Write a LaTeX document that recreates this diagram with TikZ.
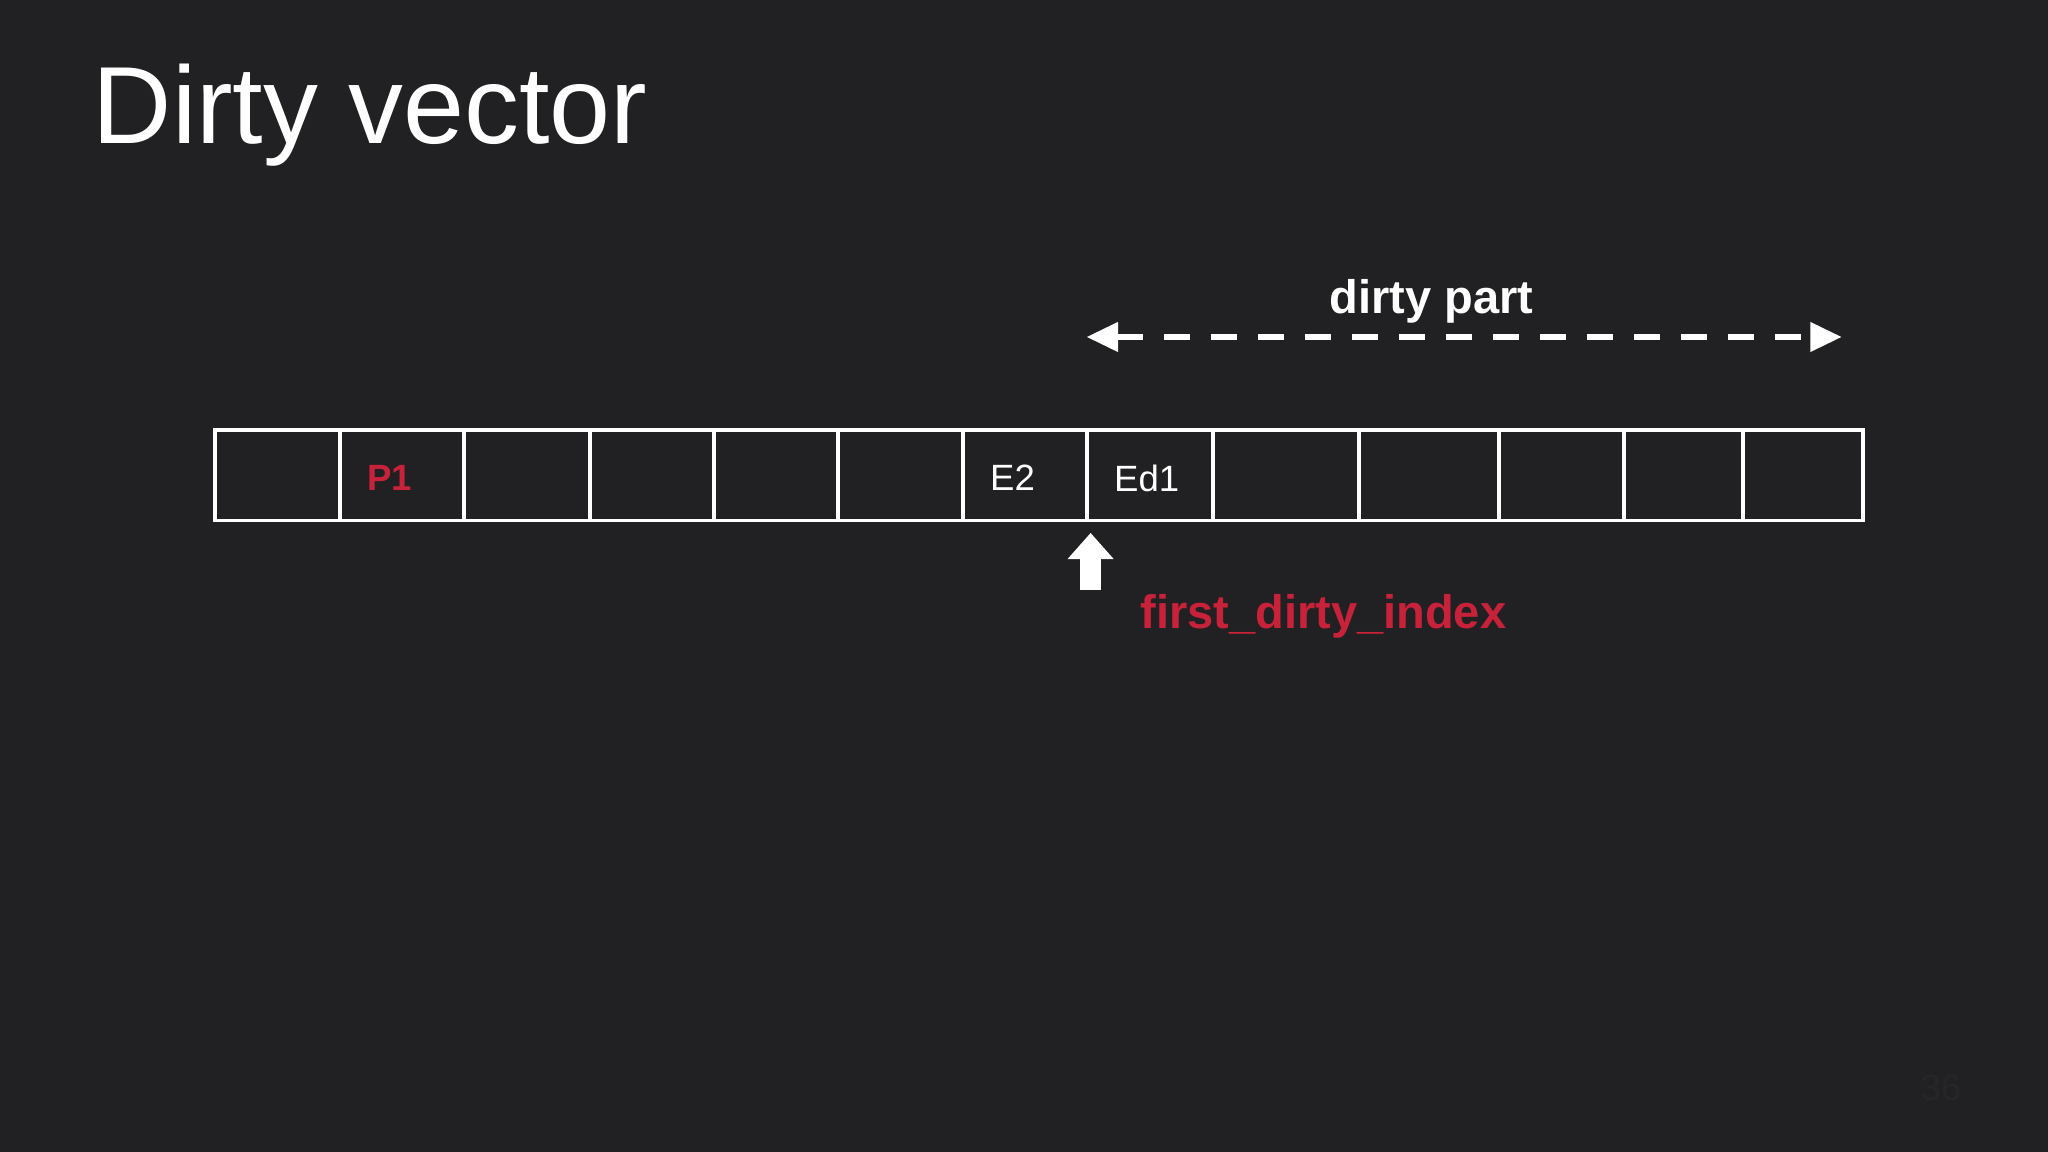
\documentclass[tikz,border=0pt]{standalone}
\usepackage{fontspec}
\setmainfont{Liberation Sans}
\usetikzlibrary{arrows.meta}
\definecolor{bg}{HTML}{212123}
\definecolor{redt}{HTML}{C8213A}
\tikzset{cell/.style={draw=white,line width=1.5pt,minimum height=34.5pt,inner sep=0pt,anchor=south west}}
\begin{document}
\begin{tikzpicture}[x=0.5pt,y=-0.5pt]
\fill[bg] (0,0) rectangle (1568,882);
\useasboundingbox (0,0) rectangle (1568,882);
\node[anchor=west,text=white,font=\fontsize{42}{48}\selectfont] (title) at (64,88) {Dirty vector};
\foreach \a/\b/\n in {163/259/c0,259/354/c1,354/450/c2,450/545/c3,545/640/c4,640/736/c5,736/831/c6,831/927/c7,927/1039/c8,1039/1146/c9,1146/1242/c10,1242/1333/c11,1333/1425/c12}{
  \pgfmathsetmacro\w{(\b-\a)*0.5}
  \node[cell,minimum width=\w pt] (\n) at (\a,400) {};
}
\node[anchor=west,text=redt,font=\bfseries\fontsize{14}{16}\selectfont] (p1) at (274,366) {P1};
\node[anchor=west,text=white,font=\fontsize{14}{16}\selectfont] (e2) at (751,366) {E2};
\node[anchor=west,text=white,font=\fontsize{14}{16}\selectfont] (ed1) at (846,366) {Ed1};
\coordinate (dl) at (832,258);
\coordinate (dr) at (1410,258);
\draw[white,line width=2pt,dash pattern=on 10pt off 8pt,{Triangle[length=12pt,width=11pt]}-{Triangle[length=12pt,width=11pt]}] (dl) -- (dr);
\node[text=white,font=\bfseries\fontsize{18}{20}\selectfont,fill=bg,inner sep=1pt] (dp) at (1096,231) {dirty part};
\coordinate (at) at (835,452);
\draw[white,line width=8pt,-{Triangle[length=10pt,width=17pt]}] (at) -- (835,408);
\node[anchor=west,text=redt,font=\bfseries\fontsize{18}{20}\selectfont] (fdi) at (866,472) {first\_dirty\_index};
\node[text=black!85,font=\fontsize{14}{16}\selectfont] (pg) at (1486,833) {36};
\end{tikzpicture}
\end{document}
